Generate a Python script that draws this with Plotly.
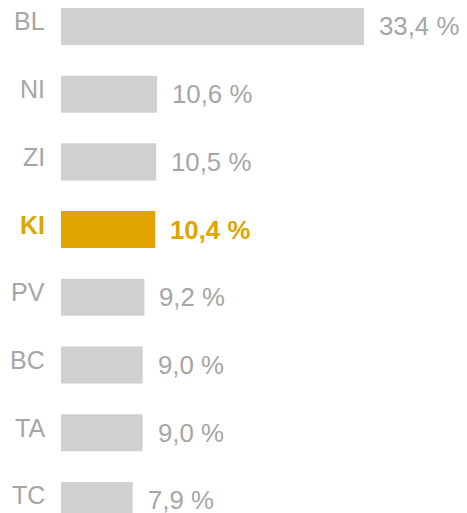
import plotly.graph_objects as go

categories = ["BL", "NI", "ZI", "KI", "PV", "BC", "TA", "TC"]
values = [33.4, 10.6, 10.5, 10.4, 9.2, 9.0, 9.0, 7.9]
value_labels = ["33,4 %", "10,6 %", "10,5 %", "10,4 %", "9,2 %", "9,0 %", "9,0 %", "7,9 %"]
highlight = "KI"

GREY_BAR = "#D0D0D0"
GREY_TEXT = "#A6A6A6"
ORANGE = "#E0A500"
FONT = "Liberation Sans, Arial, sans-serif"

colors = [ORANGE if c == highlight else GREY_BAR for c in categories]

fig = go.Figure(go.Bar(
    x=values, y=categories, orientation="h",
    marker=dict(color=colors, line=dict(width=0)),
    width=0.547, hoverinfo="skip",
))

annotations = []
for c, v, lab in zip(categories, values, value_labels):
    hl = c == highlight
    col = ORANGE if hl else GREY_TEXT
    txt = f"<b>{lab}</b>" if hl else lab
    ctxt = f"<b>{c}</b>" if hl else c
    annotations.append(dict(
        x=v, y=c, xref="x", yref="y", text=txt, showarrow=False,
        xanchor="left", yanchor="middle", xshift=13,
        font=dict(family=FONT, size=25.8, color=col),
    ))
    annotations.append(dict(
        x=0, y=c, xref="paper", yref="y", text=ctxt, showarrow=False,
        xanchor="right", yanchor="middle", xshift=-14, yshift=5,
        font=dict(family=FONT, size=25, color=col),
    ))

fig.update_layout(
    width=459, height=505,
    margin=dict(l=53, r=0, t=0, b=0),
    paper_bgcolor="white", plot_bgcolor="white",
    showlegend=False,
    xaxis=dict(range=[0, 406 / 9.07], visible=False, fixedrange=True),
    yaxis=dict(range=[7.186, -0.273], visible=False, fixedrange=True,
               categoryorder="array", categoryarray=categories),
    annotations=annotations,
)

fig.write_html("out.html", config={"displayModeBar": False})
